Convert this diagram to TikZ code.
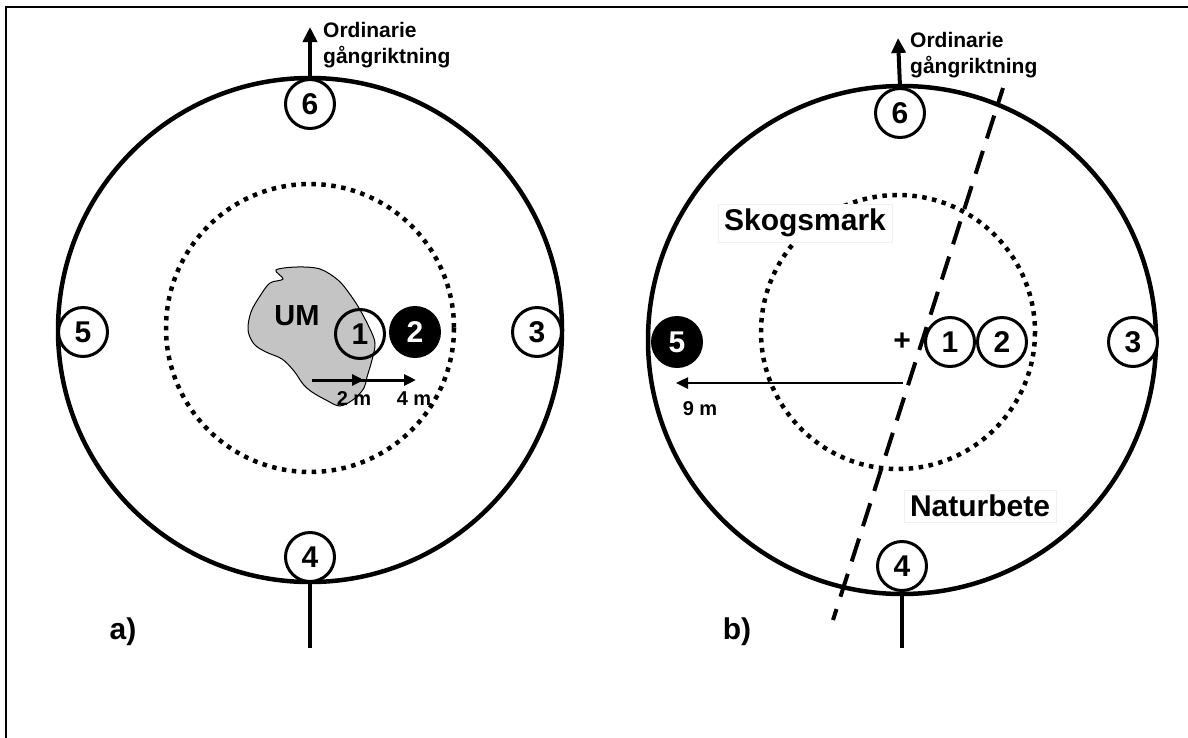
\documentclass[tikz,border=0pt]{standalone}
\usepackage{fontspec}
\setmainfont{Liberation Sans}
\usetikzlibrary{arrows.meta}
\tikzset{
  num/.style={circle, draw=black, line width=3pt, minimum size=49pt, inner sep=0pt, fill=white,
    font=\bfseries\fontsize{30}{30}\selectfont},
  numline/.style={num, fill=none},
  numfill/.style={num, fill=black, text=white},
  outer/.style={line width=4.5pt},
  inner/.style={line width=4.5pt, dash pattern=on 4.5pt off 5.5pt},
  lbl/.style={font=\bfseries\fontsize{21}{26}\selectfont, align=left, inner sep=0pt},
  big/.style={font=\bfseries\fontsize{30}{30}\selectfont, inner sep=0pt},
  small/.style={font=\bfseries\fontsize{20}{20}\selectfont, inner sep=0pt},
  whitebox/.style={fill=white, draw=black!6, line width=0.6pt, inner xsep=6pt, inner ysep=5pt},
  dir/.style={line width=4pt, -{Triangle[length=15pt,width=14pt]}},
  meas/.style={line width=3pt, -{Triangle[length=12pt,width=11pt]}},
  stick/.style={line width=4pt},
  divider/.style={line width=4pt, dash pattern=on 24pt off 13pt, dash phase=8pt}
}
\begin{document}
\begin{tikzpicture}[x=1pt,y=-1pt]
\useasboundingbox (0,0) rectangle (1188,737);
% frame
\draw[line width=2pt] (6,7) rectangle (1200,750);

% ================= a) =================
\coordinate (ac) at (310,330);
\draw[outer] (ac) circle[radius=252];
\draw[inner] (310,328) circle[radius=144];
% UM blob
\draw[line width=1pt, fill={rgb,255:red,196;green,196;blue,196}]
  plot[smooth cycle, tension=0.55] coordinates {
   (276,270) (297,267) (320,269) (338,280) (349,293) (359,308) (369,327)
   (375,343) (372,360) (367,377) (364,388) (354,399) (340,406) (326,400)
   (312,392) (303,384) (294,371) (282,359) (266,352) (254,344) (248,330)
   (251,312) (260,296) (270,283) (283,279)};
\node[big, font=\bfseries\fontsize{29}{29}\selectfont] (um) at (297,316) {UM};
\node[numline] (a1) at (360,334) {1};
\node[numfill] (a2) at (415,332) {2};
\coordinate (m0) at (312,380);
\coordinate (m2) at (364,380);
\coordinate (m4) at (416,380);
\draw[meas] (m0) -- (m4);
\draw[meas] (m0) -- (m2);
\node[small] (l2m) at (354,399) {2 m};
\node[small] (l4m) at (414,399) {4 m};
\node[num] (a6) at (310,104) {6};
\node[num] (a4) at (310,557) {4};
\node[num] (a5) at (83,332) {5};
\node[num] (a3) at (537,332) {3};
\coordinate (atip) at (310,27);
\coordinate (abot) at (310,648);
\draw[dir] (a6.north) -- (atip);
\draw[stick] (a4.south) -- (abot);
\node[lbl, anchor=north west] (aord) at (323,22) {Ordinarie\\gångriktning};
\node[font=\bfseries\fontsize{30}{30}\selectfont, inner sep=0pt] (la) at (123,632) {a)};

% ================= b) =================
\coordinate (bc) at (902,340);
\draw[outer] (bc) circle[radius=254];
\draw[inner] (898,332) circle[radius=137];
\coordinate (dtop) at (1003,88);
\coordinate (dbot) at (833,620);
\draw[divider] (dtop) -- (dbot);
\node[big, whitebox] (skog) at (805,223) {Skogsmark};
\node[big, whitebox] (natur) at (980,506) {Naturbete};
\node[big] (plus) at (902,342) {+};
\node[num] (b1) at (950,342) {1};
\node[num] (b2) at (1002,342) {2};
\coordinate (ns) at (903,383);
\coordinate (nt) at (676,383);
\draw[meas, line width=2.5pt] (ns) -- (nt);
\node[small] (l9m) at (700,409) {9 m};
\node[num] (b6) at (900,113) {6};
\node[num] (b4) at (902,566) {4};
\node[numfill] (b5) at (677,342) {5};
\node[num] (b3) at (1133,342) {3};
\coordinate (btip) at (898,38);
\coordinate (bbot) at (902,648);
\draw[dir] (b6.north) -- (btip);
\draw[stick] (b4.south) -- (bbot);
\node[lbl, anchor=north west] (bord) at (910,32) {Ordinarie\\gångriktning};
\node[font=\bfseries\fontsize{30}{30}\selectfont, inner sep=0pt] (lb) at (737,632) {b)};
\end{tikzpicture}
\end{document}
